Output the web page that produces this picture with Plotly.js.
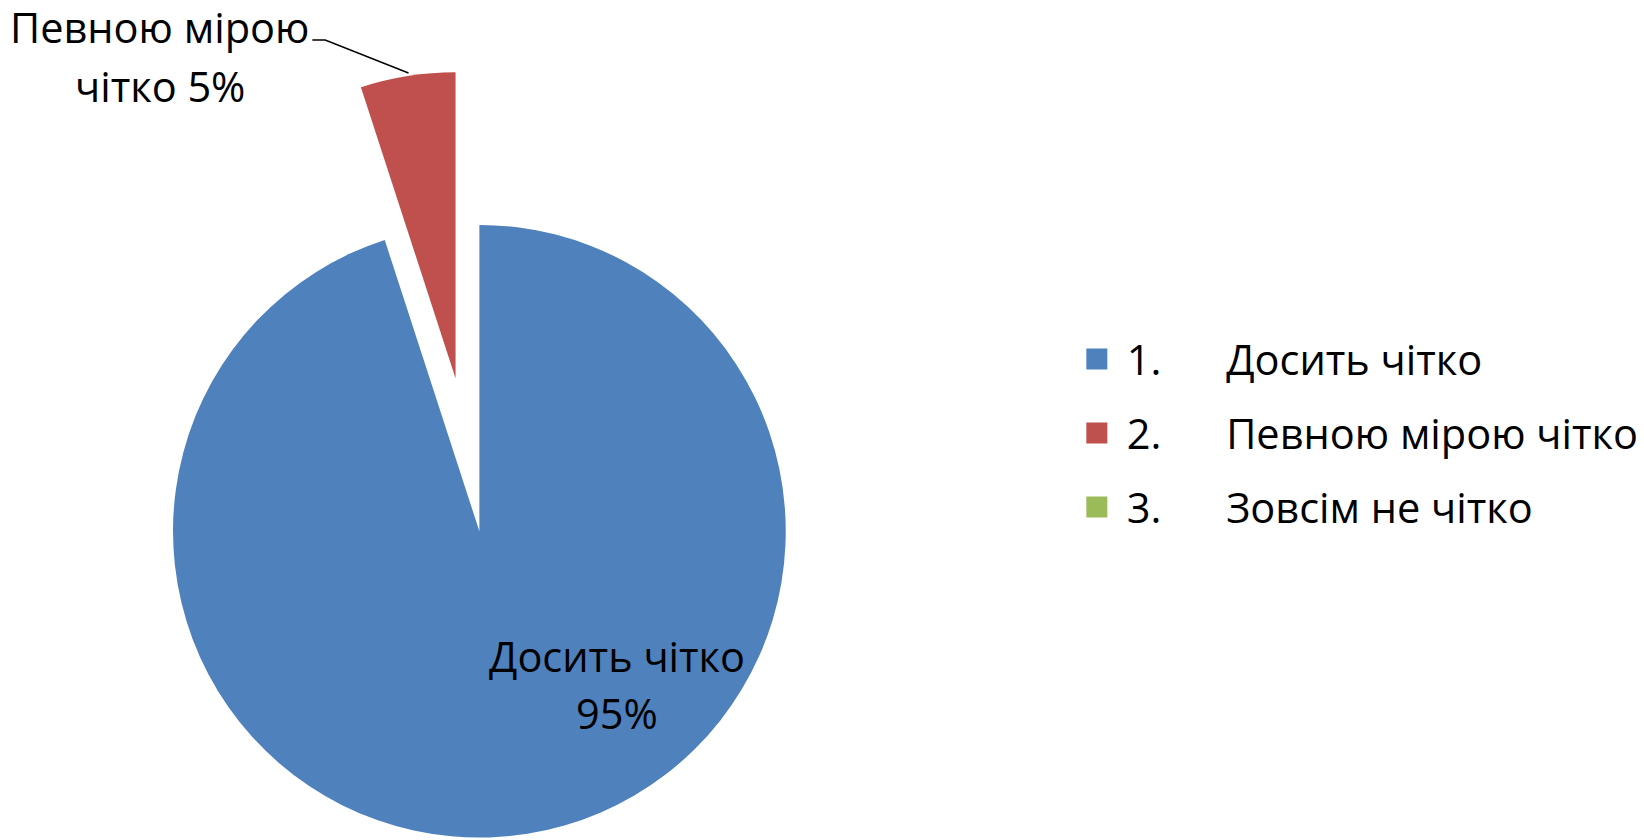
<!DOCTYPE html>
<html>
<head>
<meta charset="utf-8">
<script src="https://cdn.plot.ly/plotly-3.0.1.min.js"></script>
<style>html,body{margin:0;padding:0;background:#fff;}#chart{width:1644px;height:840px;}</style>
</head>
<body>
<div id="chart"></div>
<script>
// ---- data ----
const categories = ["Досить чітко", "Певною мірою чітко", "Зовсім не чітко"];
const legendNumbers = ["1.", "2.", "3."];
const values = [95, 5, 0];
const colors = ["#4F81BD", "#C0504D", "#9BBB59"];
const pulled = [false, true, false];

// ---- helpers ----
const W = 1644, H = 840;
const FONT = "'Open Sans', 'Noto Sans', sans-serif";
const FS = 41.5;
const total = values.reduce((a, b) => a + b, 0);
const pct = values.map(v => Math.round(v / total * 100) + "%");
const px = x => x / W;
const py = y => 1 - y / H;

// main pie: non-pulled slices
const mainTrace = {
  type: "pie",
  labels: categories,
  values: values,
  sort: false,
  direction: "clockwise",
  rotation: 0,
  textinfo: "none",
  hoverinfo: "label+percent",
  showlegend: false,
  marker: {colors: colors.map((c, i) => pulled[i] ? "rgba(0,0,0,0)" : c), line: {width: 0}},
  domain: {x: [px(174.5), px(792.5)], y: [0, py(222.5)]}
};
// pulled (exploded) slice, drawn as same pie shifted along its bisector
const pulledTrace = {
  type: "pie",
  labels: categories,
  values: values,
  sort: false,
  direction: "clockwise",
  rotation: 0,
  textinfo: "none",
  hoverinfo: "label+percent",
  showlegend: false,
  marker: {colors: colors.map((c, i) => pulled[i] ? c : "rgba(0,0,0,0)"), line: {width: 0}},
  domain: {x: [px(150.5), px(768.5)], y: [py(687), py(70)]}
};
// legend entries
const legendTraces = categories.map((c, i) => ({
  type: "scatter",
  mode: "markers",
  x: [null], y: [null],
  name: legendNumbers[i] + "\u00a0".repeat(6) + c,
  legendgroup: "g" + i,
  marker: {symbol: "square", size: 22, color: colors[i], line: {color: colors[i], width: 5}},
  hoverinfo: "skip"
}));

function splitLabel(s) {
  const k = s.lastIndexOf(" ");
  return [s.slice(0, k), s.slice(k + 1)];
}
const redParts = splitLabel(categories[1]);
const blueParts = splitLabel(categories[0]);

const annFont = {family: FONT, size: FS, color: "#000"};
const annotations = [
  {xref: "paper", yref: "paper", x: px(161), y: py(27), text: redParts[0], showarrow: false, font: annFont, xanchor: "center", yanchor: "middle"},
  {xref: "paper", yref: "paper", x: px(161), y: py(86), text: redParts[1] + " " + pct[1], showarrow: false, font: annFont, xanchor: "center", yanchor: "middle"},
  {xref: "paper", yref: "paper", x: px(622), y: py(656), text: blueParts.join(" "), showarrow: false, font: annFont, xanchor: "center", yanchor: "middle"},
  {xref: "paper", yref: "paper", x: px(622), y: py(713), text: pct[0], showarrow: false, font: annFont, xanchor: "center", yanchor: "middle"}
];

const layout = {
  width: W, height: H,
  margin: {l: 0, r: 0, t: 0, b: 0},
  paper_bgcolor: "#fff",
  plot_bgcolor: "rgba(0,0,0,0)",
  font: {family: FONT, size: FS, color: "#000"},
  xaxis: {visible: false},
  yaxis: {visible: false},
  showlegend: true,
  legend: {
    x: px(1076), xanchor: "left",
    y: py(433), yanchor: "middle",
    font: {family: FONT, size: FS, color: "#000"},
    tracegroupgap: 17,
    itemwidth: 50,
    bgcolor: "rgba(0,0,0,0)"
  },
  annotations: annotations,
  shapes: [{
    type: "path", xref: "paper", yref: "paper",
    path: `M${px(315)},${py(40)} L${px(328)},${py(40)} L${px(412)},${py(73)}`,
    line: {color: "#000", width: 1.5}
  }]
};

Plotly.newPlot("chart", [mainTrace, pulledTrace, ...legendTraces], layout, {displayModeBar: false, staticPlot: true});
</script>
</body>
</html>
